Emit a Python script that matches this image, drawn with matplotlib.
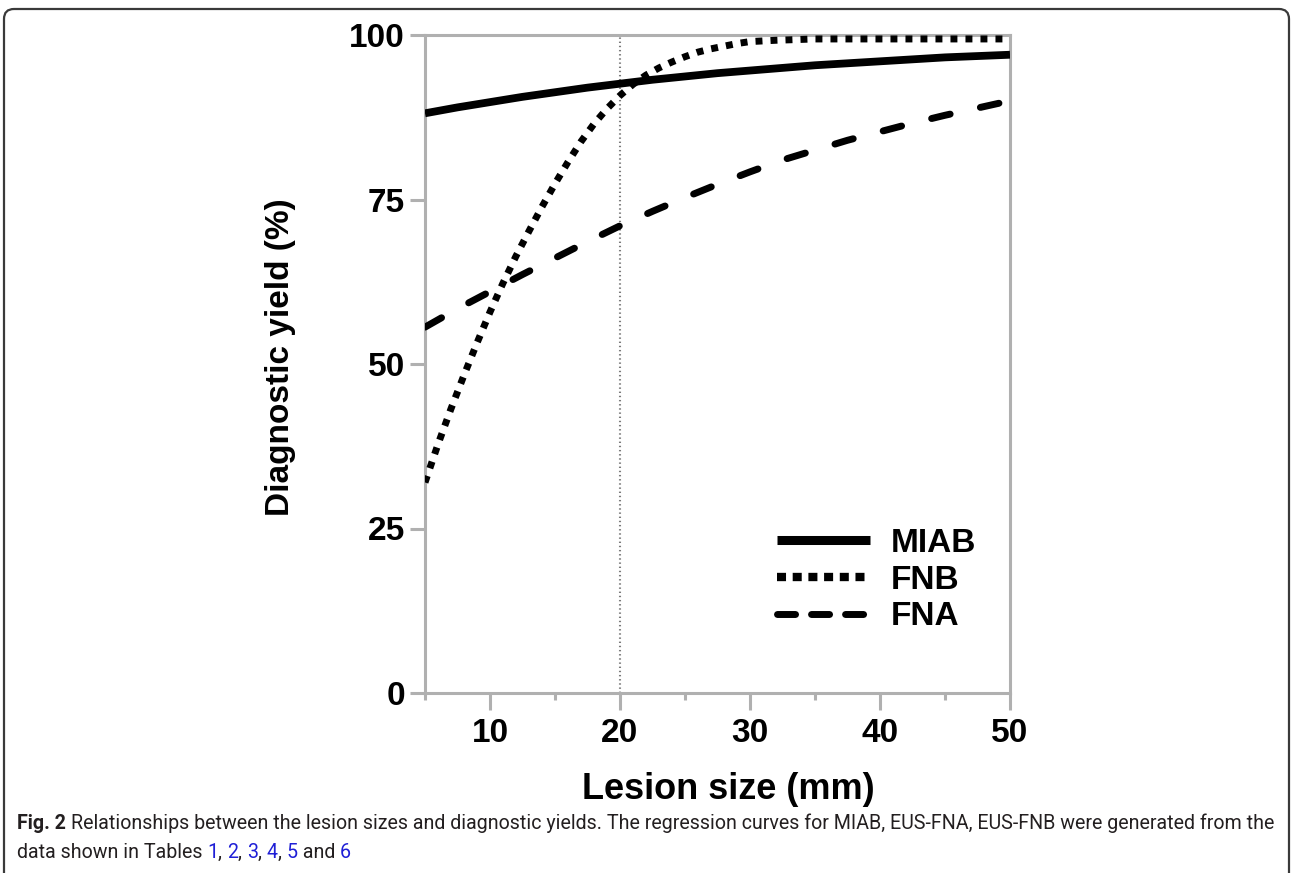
import matplotlib
matplotlib.use("Agg")
import matplotlib.pyplot as plt
from matplotlib.lines import Line2D
from matplotlib.patches import FancyBboxPatch
from matplotlib.transforms import IdentityTransform
from matplotlib.ticker import MultipleLocator, FixedLocator
from matplotlib.font_manager import FontProperties

plt.rcParams['lines.scale_dashes'] = False

# ---------------- data ----------------
miab_x = [5, 7.5, 10, 12.5, 15, 17.5, 20, 22.5, 25, 27.5, 30, 32.5, 35, 37.5, 40, 42.5, 45, 47.5, 50]
miab_y = [88.1, 89.0, 89.8, 90.6, 91.3, 92.0, 92.6, 93.2, 93.7, 94.2, 94.6, 95.0, 95.4, 95.7, 96.0, 96.3, 96.6, 96.8, 97.0]

fnb_x = [5, 6, 7, 8, 9, 10, 11, 12, 13, 14, 15, 16, 17, 18, 19, 20, 21, 22, 23, 24, 25,
         26, 27, 28, 29, 30, 32, 35, 40, 45, 50]
fnb_y = [32.0, 37.8, 43.2, 48.3, 53.2, 57.9, 62.3, 66.4, 70.2, 73.9, 77.4, 80.7, 83.8, 86.5, 88.8,
         90.8, 92.5, 93.9, 95.0, 95.9, 96.7, 97.4, 97.9, 98.3, 98.7, 99.0, 99.2, 99.4, 99.4, 99.4, 99.4]

fna_x = [5, 7.5, 10, 12.5, 15, 17.5, 20, 22.5, 25, 27.5, 30, 32.5, 35, 37.5, 40, 42.5, 45, 47.5, 50]
fna_y = [55.6, 58.4, 61.0, 63.6, 66.1, 68.6, 71.0, 73.2, 75.3, 77.3, 79.2, 81.0, 82.5, 84.0, 85.3, 86.6, 87.8, 88.9, 90.0]

series_names = ["MIAB", "FNB", "FNA"]
x_major = [10, 20, 30, 40, 50]
y_ticks = [0, 25, 50, 75, 100]
cutoff_x = 20

caption_bold = "Fig. 2"
caption_line1 = "Relationships between the lesion sizes and diagnostic yields. The regression curves for MIAB, EUS-FNA, EUS-FNB were generated from the"
caption_line2 = ["data shown in Tables ", "1", ", ", "2", ", ", "3", ", ", "4", ", ", "5", " and ", "6"]

# ---------------- figure ----------------
W, H = 1292, 873
fig = plt.figure(figsize=(W / 100, H / 100), dpi=100)
ax = fig.add_axes([425 / W, 1 - 693 / H, (1010 - 425) / W, (693 - 35) / H])

GRAY = "#b0b0b0"
BOLD = dict(family="Liberation Sans", weight="bold")

ax.axvline(cutoff_x, color="#7a7a7a", lw=1.5, linestyle=(0, (1, 2.0)), zorder=1)
ax.plot(miab_x, miab_y, color="black", lw=5.6, solid_capstyle="butt", zorder=3)
ax.plot(fnb_x, fnb_y, color="black", lw=5.0, dash_capstyle="butt",
        dashes=(5.0, 5.8), zorder=3)
ax.plot(fna_x, fna_y, color="black", lw=5.0, dash_capstyle="round",
        dashes=(13.7, 22.3), zorder=3)

ax.set_xlim(5, 50)
ax.set_ylim(0, 100)
ax.xaxis.set_major_locator(FixedLocator(x_major))
ax.xaxis.set_minor_locator(MultipleLocator(5))
ax.yaxis.set_major_locator(FixedLocator(y_ticks))

for sp in ax.spines.values():
    sp.set_color(GRAY)
    sp.set_linewidth(2.2)

ax.tick_params(axis="both", which="both", direction="out", color=GRAY, width=2.2)
ax.tick_params(axis="y", which="major", length=10.8, pad=3.6, labelsize=24)
ax.tick_params(axis="x", which="major", length=12.2, pad=5.5, labelsize=24)
ax.tick_params(axis="x", which="minor", length=5.0)
for lab in ax.get_xticklabels() + ax.get_yticklabels():
    lab.set_fontfamily("Liberation Sans")
    lab.set_fontweight("bold")

ax.set_xlabel("Lesion size (mm)", fontsize=26, **BOLD)
ax.xaxis.set_label_coords((728 - 425) / 585, -(772 - 693) / 658)
ax.set_ylabel("Diagnostic yield (%)", fontsize=24, **BOLD)
ax.yaxis.set_label_coords(-(425 - 296) / 585, 0.51)

handles = [
    Line2D([], [], color="black", lw=6.5, solid_capstyle="butt"),
    Line2D([], [], color="black", lw=6.0, dash_capstyle="butt", dashes=(6.5, 4.8)),
    Line2D([], [], color="black", lw=5.0, dash_capstyle="round", dashes=(13.0, 11.5)),
]
ax.legend(handles, series_names, loc="upper left",
          bbox_to_anchor=((777 - 425) / 585, (693 - 528) / 658),
          frameon=False, borderpad=0, borderaxespad=0, handlelength=2.8,
          handletextpad=0.6, labelspacing=0.17,
          prop=FontProperties(family="Liberation Sans", weight="bold", size=24))

# ---------------- border ----------------
fig.patches.append(FancyBboxPatch((4, -30), W - 7, H - 9 + 30,
                                  boxstyle="round,pad=0,rounding_size=10",
                                  transform=IdentityTransform(), fill=False,
                                  lw=1.6, ec="#3a3a3a", zorder=0))

# ---------------- caption ----------------
fig.canvas.draw()
r = fig.canvas.get_renderer()
cap_fam = "Roboto"


def tw(s, fp):
    t = fig.text(0, 0, s, fontproperties=fp)
    w = t.get_window_extent(r).width
    t.remove()
    return w


def props(size, bold=False):
    return FontProperties(family=cap_fam, size=size, weight="bold" if bold else "normal")


base = 12.0
w_line = (tw(caption_bold, props(base, True))
          + tw("2 " + caption_line1, props(base)) - tw("2", props(base)))
size = base * (1273 - 17) / w_line
fr, fb = props(size), props(size, True)
TXT = "#231f20"
LINK = "#1f1fd6"

x0 = 17
y1 = H - 829
y2 = H - 858
fig.text(x0 / W, y1 / H, caption_bold, fontproperties=fb, color=TXT, va="baseline")
gap = tw("2 R", fr) - tw("R", fr) - tw("2", fr)
fig.text((x0 + tw(caption_bold, fb) + gap) / W, y1 / H, caption_line1,
         fontproperties=fr, color=TXT, va="baseline")

prefix = ""
for i, piece in enumerate(caption_line2):
    xs = x0 + (tw(prefix + piece, fr) - tw(piece, fr) if prefix else 0)
    fig.text(xs / W, y2 / H, piece, fontproperties=fr,
             color=LINK if i % 2 == 1 else TXT, va="baseline")
    prefix += piece

fig.savefig("out.png", dpi=100)
